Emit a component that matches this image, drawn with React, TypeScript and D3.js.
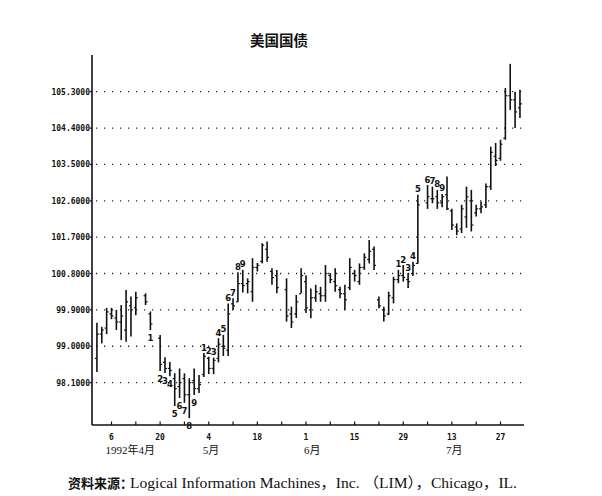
import React from "react";
import * as d3 from "d3";

// daily bars, US Treasury bond futures, Apr-Jul 1992
const dates = [
  "1992-04-01", "1992-04-02", "1992-04-03", "1992-04-06", "1992-04-07", "1992-04-08", "1992-04-09", "1992-04-10",
  "1992-04-13", "1992-04-15", "1992-04-16", "1992-04-20", "1992-04-21", "1992-04-22", "1992-04-23", "1992-04-24",
  "1992-04-27", "1992-04-28", "1992-04-29", "1992-04-30", "1992-05-01", "1992-05-04", "1992-05-05", "1992-05-06",
  "1992-05-07", "1992-05-08", "1992-05-11", "1992-05-12", "1992-05-13", "1992-05-14", "1992-05-15", "1992-05-18",
  "1992-05-19", "1992-05-20", "1992-05-21", "1992-05-22", "1992-05-26", "1992-05-27", "1992-05-28", "1992-05-29",
  "1992-06-01", "1992-06-02", "1992-06-03", "1992-06-04", "1992-06-05", "1992-06-08", "1992-06-09", "1992-06-10",
  "1992-06-11", "1992-06-12", "1992-06-15", "1992-06-16", "1992-06-17", "1992-06-18", "1992-06-19", "1992-06-22",
  "1992-06-23", "1992-06-24", "1992-06-25", "1992-06-26", "1992-06-29", "1992-06-30", "1992-07-01", "1992-07-02",
  "1992-07-06", "1992-07-07", "1992-07-08", "1992-07-09", "1992-07-10", "1992-07-13", "1992-07-14", "1992-07-15",
  "1992-07-16", "1992-07-17", "1992-07-20", "1992-07-21", "1992-07-22", "1992-07-23", "1992-07-24", "1992-07-27",
  "1992-07-28", "1992-07-29", "1992-07-30", "1992-07-31",
];
const highs = [
  99.58, 99.48, 99.95, 99.95, 99.9, 100.02, 100.39, 100.23,
  100.35, 100.31, 99.86, 99.28, 98.73, 98.61, 98.33, 98.45,
  98.33, 98.21, 98.45, 98.29, 98.83, 98.74, 98.72, 99.2,
  99.28, 100.06, 100.19, 100.83, 100.89, 100.68, 101.18, 101.06,
  101.55, 101.59, 100.93, 100.89, 100.68, 99.98, 100.27, 100.93,
  100.76, 100.43, 100.52, 100.47, 101.01, 100.81, 100.93, 100.47,
  100.52, 101.18, 100.89, 101.05, 101.3, 101.63, 101.47, 100.23,
  99.98, 100.35, 100.72, 100.89, 101.01, 100.81, 101.09, 102.75,
  102.99, 102.95, 102.87, 102.77, 103.2, 102.4, 102.04, 102.5,
  102.95, 102.87, 102.5, 102.58, 103.03, 103.94, 104.03, 104.11,
  105.39, 105.99, 105.3, 105.35,
];
const lows = [
  98.36, 99.07, 99.3, 99.67, 99.4, 99.15, 99.11, 99.24,
  99.77, 100.02, 99.4, 98.39, 98.34, 98.26, 97.52, 97.72,
  97.6, 97.22, 97.79, 97.84, 98.24, 98.31, 98.31, 98.6,
  98.76, 98.76, 99.9, 100.1, 100.33, 100.31, 100.1, 100.85,
  101.05, 101.09, 100.52, 100.31, 99.61, 99.45, 99.7, 100.31,
  99.82, 99.69, 100.1, 100.1, 100.1, 100.56, 100.35, 100.19,
  99.9, 100.39, 100.6, 100.52, 100.89, 101.05, 100.89, 99.94,
  99.61, 99.77, 100.06, 100.56, 100.6, 100.44, 100.74, 101.04,
  102.4, 102.54, 102.4, 102.44, 102.37, 101.88, 101.75, 101.8,
  101.93, 101.84, 102.21, 102.29, 102.42, 102.87, 103.46, 103.59,
  104.11, 104.85, 104.4, 104.65,
];
const opens = [
  98.7, 99.3, 99.45, 99.8, 99.7, 99.6, 99.4, 100.0,
  99.95, 100.25, 99.8, 99.2, 98.6, 98.45, 98.2, 98.0,
  98.2, 97.8, 98.15, 97.95, 98.3, 98.7, 98.45, 98.7,
  99.0, 98.9, 100.05, 100.1, 100.55, 100.55, 100.35, 100.95,
  101.1, 101.4, 100.85, 100.75, 100.4, 99.8, 99.8, 100.3,
  100.6, 99.9, 100.2, 100.3, 100.25, 100.75, 100.6, 100.4,
  100.3, 100.45, 100.8, 100.6, 100.95, 101.15, 101.4, 100.15,
  99.9, 99.8, 100.2, 100.65, 100.75, 100.65, 100.8, 101.05,
  102.55, 102.65, 102.7, 102.55, 102.75, 102.35, 101.95, 101.9,
  102.2, 102.6, 102.3, 102.4, 102.5, 102.95, 103.7, 103.65,
  104.15, 105.2, 105.1, 104.9,
];
const closes = [
  99.3, 99.4, 99.85, 99.75, 99.6, 99.75, 100.1, 99.9,
  100.2, 100.1, 99.55, 98.55, 98.45, 98.4, 97.95, 98.1,
  97.8, 98.1, 97.95, 98.05, 98.75, 98.45, 98.65, 99.05,
  98.95, 99.8, 100.0, 100.55, 100.5, 100.6, 100.95, 101.0,
  101.5, 101.2, 100.7, 100.45, 99.75, 99.6, 100.1, 100.75,
  99.95, 100.2, 100.35, 100.25, 100.8, 100.65, 100.5, 100.3,
  100.15, 100.95, 100.75, 100.95, 101.2, 101.35, 101.0, 100.0,
  99.75, 100.25, 100.65, 100.75, 100.7, 100.6, 101.0, 102.5,
  102.7, 102.65, 102.55, 102.7, 102.4, 102.0, 101.85, 102.4,
  102.7, 102.0, 102.4, 102.45, 102.95, 103.8, 103.6, 104.0,
  105.2, 105.1, 104.8, 105.0,
];

// sequential count marks written next to the bars
const countDates = [
  "1992-04-16", "1992-04-20", "1992-04-21", "1992-04-22", "1992-04-23", "1992-04-24", "1992-04-27", "1992-04-28", "1992-04-29",
  "1992-05-01", "1992-05-04", "1992-05-05", "1992-05-06", "1992-05-07", "1992-05-08", "1992-05-11", "1992-05-12", "1992-05-13",
  "1992-06-26", "1992-06-29", "1992-06-30", "1992-07-01", "1992-07-02", "1992-07-06", "1992-07-07", "1992-07-08", "1992-07-09",
];
const countTexts = [
  "1", "2", "3", "4", "5", "6", "7", "8", "9",
  "1", "2", "3", "4", "5", "6", "7", "8", "9",
  "1", "2", "3", "4", "5", "6", "7", "8", "9",
];
const countBelow = [
  true, true, true, true, true, true, true, true, true,
  false, false, false, false, false, false, false, false, false,
  false, false, false, false, false, false, false, false, false,
];

const yTicks = [98.1, 99.0, 99.9, 100.8, 101.7, 102.6, 103.5, 104.4, 105.3];
const monthLabels = ["1992年4月", "5月", "6月", "7月"];
const monthAt = ["1992-04-06", "1992-05-04", "1992-06-01", "1992-07-13"];

const parse = d3.timeParse("%Y-%m-%d");
const start = parse("1992-04-01")!;
// position on a trading-day axis: weekdays counted from 1 April
const tradeIdx = (d: Date) =>
  d3.timeDay.range(start, d).filter((t) => t.getDay() !== 0 && t.getDay() !== 6).length;

export default function App() {
  const left = 92;
  const right = 524;
  const top = 55;
  const bottom = 425;

  const mondays = d3.timeMonday.range(parse("1992-04-06")!, parse("1992-07-28")!);
  const x = d3
    .scaleLinear()
    .domain([tradeIdx(mondays[0]), tradeIdx(mondays[mondays.length - 1])])
    .range([111.5, 500.5]);
  const y = d3.scaleLinear().domain([98.1, 105.3]).range([382.6, 91.7]);
  const fmt = d3.format(".4f");
  const dayFmt = d3.timeFormat("%-d");

  const bars = dates.map((d, i) => ({
    x: x(tradeIdx(parse(d)!)),
    h: highs[i],
    l: lows[i],
    o: opens[i],
    c: closes[i],
  }));
  const lookup = new Map(dates.map((d, i) => [d, i]));

  const mono = "'DejaVu Sans Mono', monospace";

  return (
    <div style={{ position: "absolute", left: 0, top: 0 }}>
      <svg width={602} height={496} style={{ display: "block", background: "#fff" }}>
        <text x={279} y={46} textAnchor="middle" fontSize={14.5} fontWeight="bold"
          fontFamily="'Noto Sans CJK SC', sans-serif" fill="#111">美国国债</text>

        {/* dotted grid + y labels */}
        {yTicks.map((t) => (
          <g key={t}>
            <line x1={left + 4} x2={right} y1={y(t)} y2={y(t)} stroke="#222"
              strokeWidth={1.3} strokeDasharray="1.2 6.8" />
            <line x1={left - 2} x2={left} y1={y(t)} y2={y(t)} stroke="#111" strokeWidth={1.2} />
            <text x={left - 2} y={y(t) + 3} textAnchor="end" fontSize={8} fontWeight="bold"
              fontFamily={mono} fill="#111">{fmt(t)}</text>
          </g>
        ))}

        {/* axes */}
        <line x1={left} x2={left} y1={top} y2={bottom} stroke="#111" strokeWidth={1.6} />
        <line x1={left} x2={right} y1={bottom} y2={bottom} stroke="#111" strokeWidth={1.6} />
        {mondays.map((m, k) => (
          <g key={k}>
            <line x1={x(tradeIdx(m))} x2={x(tradeIdx(m))} y1={bottom} y2={bottom - 3.5}
              stroke="#111" strokeWidth={1.2} />
            {k % 2 === 0 && (
              <text x={x(tradeIdx(m))} y={440} textAnchor="middle" fontSize={8} fontWeight="bold"
                fontFamily={mono} fill="#111">{dayFmt(m)}</text>
            )}
          </g>
        ))}
        {monthLabels.map((lab, k) => (
          <text key={lab} x={x(tradeIdx(parse(monthAt[k])!)) - (k === 2 ? 2 : 6)} y={454}
            fontSize={11} fontFamily="'Liberation Serif', 'Noto Sans CJK SC', serif" fill="#111">{lab}</text>
        ))}

        {/* OHLC bars */}
        {bars.map((b, i) => (
          <g key={i} stroke="#111">
            <line x1={b.x} x2={b.x} y1={y(b.h)} y2={y(b.l)} strokeWidth={1.6} />
            <line x1={b.x - 2} x2={b.x} y1={y(b.o)} y2={y(b.o)} strokeWidth={1.2} />
            <line x1={b.x} x2={b.x + 2} y1={y(b.c)} y2={y(b.c)} strokeWidth={1.2} />
          </g>
        ))}

        {/* count labels */}
        {countDates.map((d, k) => {
          const i = lookup.get(d)!;
          const b = bars[i];
          const ty = countBelow[k] ? y(b.l) + 11 : y(b.h) - 2.5;
          return (
            <text key={k} x={b.x} y={ty} textAnchor="middle" fontSize={8.5} fontWeight="bold"
              fontFamily="'DejaVu Sans', sans-serif" fill="#111">{countTexts[k]}</text>
          );
        })}

        <text x={68} y={488} fontSize={13} fontWeight="bold"
          fontFamily="'Noto Sans CJK SC', sans-serif" fill="#111">资料来源：</text>
        <text x={130} y={488} fontSize={14.5} textLength={387} lengthAdjust="spacingAndGlyphs"
          fontFamily="'Liberation Serif', 'Noto Sans CJK SC', serif" fill="#111">
          Logical Information Machines，Inc. （LIM），Chicago，IL.
        </text>
      </svg>
    </div>
  );
}
